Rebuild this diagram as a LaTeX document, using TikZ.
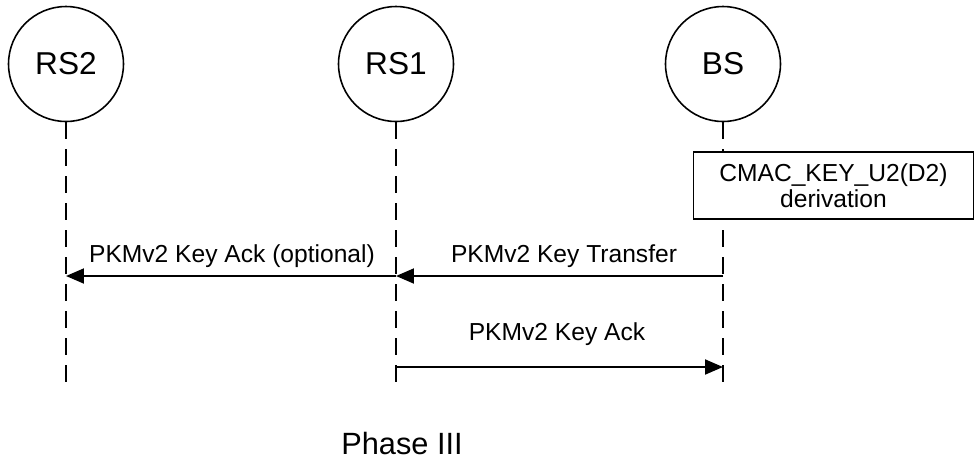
\documentclass[tikz,border=0pt]{standalone}
\usepackage{fontspec}
\setmainfont{Liberation Sans}
\usetikzlibrary{calc, arrows.meta, positioning}
\tikzset{
    entity/.style = {circle, draw, line width=0.9pt, minimum size=2.3cm, inner sep=0pt, font=\fontsize{18}{21}\selectfont}, % the stations on top
    lifeline/.style = {line width=1.5pt, dash pattern=on 0.34cm off 0.2cm},
    msg/.style = {line width=1.1pt, -{Triangle[length=0.36cm, width=0.3cm]}},
    lbl/.style = {inner sep=0pt, font=\fontsize{14}{15}\selectfont},
    procbox/.style = {rectangle, draw, fill=white, line width=0.9pt, minimum width=5.6cm, minimum height=1.34cm, align=center, inner sep=0pt, font=\fontsize{14}{15}\selectfont}
}

\begin{document}
\begin{tikzpicture}[x=0.02cm, y=-0.02cm]
        \useasboundingbox (0,0) rectangle (975,461);

        %nodes

        \node[entity](RS2) at (66,64) {RS2};
        \node[entity](RS1) at (396,64) {RS1};
        \node[entity](BS) at (723,64) {BS};

        \coordinate(RS2end) at (66,384);
        \coordinate(RS1end) at (396,384);
        \coordinate(BSend) at (723,384);

        %lifelines

        \draw[lifeline] (RS2) -- (RS2end);
        \draw[lifeline] (RS1) -- (RS1end);
        \draw[lifeline] (BS) -- (BSend);

        \node[procbox](CMAC) at (833.5,185.5) {CMAC\_KEY\_U2(D2)\\derivation};

        %message points

        \coordinate(BSa) at (723,276);
        \coordinate(RS1a) at (396,276);
        \coordinate(RS2a) at (66,276);
        \coordinate(RS1b) at (396,367);
        \coordinate(BSb) at (723,367);

        %arrows

        \draw[msg] (BSa) -- (RS1a);
        \draw[msg] (RS1a) -- (RS2a);
        \draw[msg] (RS1b) -- (BSb);

        %labels

        \node[lbl](ackopt) at (232,256) {PKMv2 Key Ack (optional)};
        \node[lbl](transfer) at (564,256) {PKMv2 Key Transfer};
        \node[lbl](ack) at (557,334) {PKMv2 Key Ack};
        \node[font=\fontsize{17.5}{20}\selectfont](phase) at (402,444) {Phase III};
    \end{tikzpicture}
\end{document}
